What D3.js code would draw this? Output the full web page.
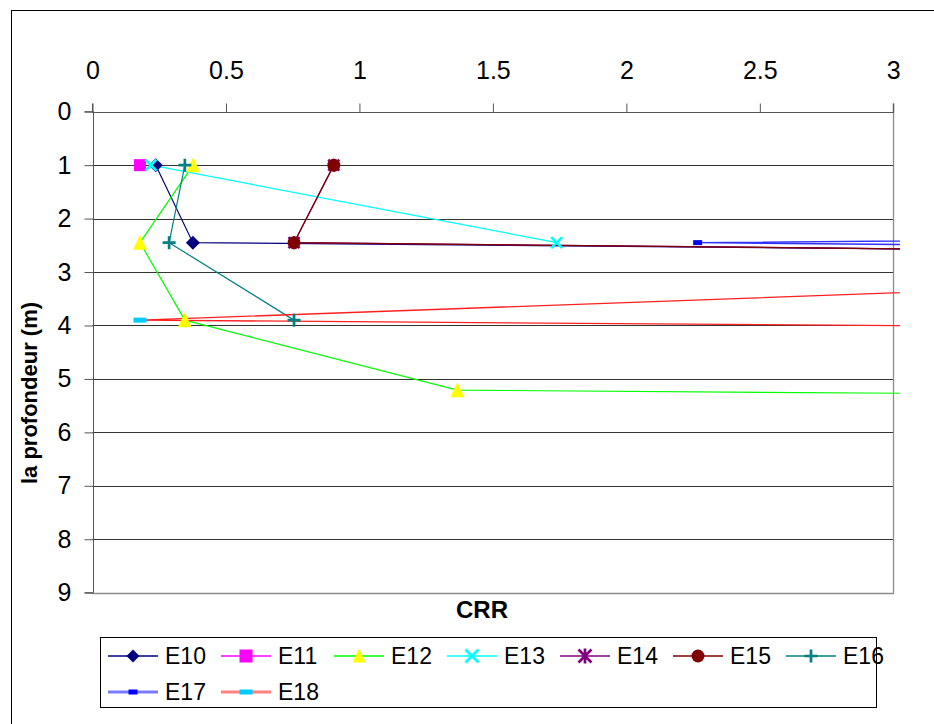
<!DOCTYPE html>
<html lang="en">
	<head>
		<meta charset="utf-8">
		<title>CRR / profondeur</title>
		<script src="https://d3js.org/d3.v7.min.js"></script>
		<style type="text/css">
			body { margin: 0; background: #fff; }
			text { font-family: "Liberation Sans", Arial, sans-serif; fill: #000; }
		</style>
	</head>
	<body>
		<script type="text/javascript">

			//Data (depth in m, CRR per point)
			var names = ["E10", "E11", "E12", "E13", "E14", "E15", "E16", "E17", "E18"];
			var crrE10 = [0.237, 0.376, 33.7];
			var depE10 = [1, 2.45, 3.9];
			var crrE11 = [0.178];
			var depE11 = [1];
			var crrE12 = [0.377, 0.178, 0.346, 1.367, 38];
			var depE12 = [1, 2.45, 3.9, 5.21, 6.5];
			var crrE13 = [0.219, 1.739];
			var depE13 = [1, 2.45];
			var crrE14 = [0.904, 0.755, 29.3];
			var depE14 = [1, 2.45, 3.9];
			var crrE15 = [0.904, 0.755, 29.3];
			var depE15 = [1, 2.45, 3.9];
			var crrE16 = [0.346, 0.287, 0.755];
			var depE16 = [1, 2.45, 3.9];
			var crrE17 = [37.6, 2.267, 35];
			var depE17 = [1, 2.45, 3.9];
			var crrE18 = [8.2, 0.178, 36];
			var depE18 = [2.45, 3.9, 5.2];

			var xTicks = [0, 0.5, 1, 1.5, 2, 2.5, 3];
			var yTicks = [0, 1, 2, 3, 4, 5, 6, 7, 8, 9];

			var allCrr = [crrE10, crrE11, crrE12, crrE13, crrE14, crrE15, crrE16, crrE17, crrE18];
			var allDep = [depE10, depE11, depE12, depE13, depE14, depE15, depE16, depE17, depE18];

			//Look of each series: line colour, marker, marker colour
			var styles = [
				{line: "#000080", mark: "diamond", fill: "#000080", size: 14},
				{line: "#ff00ff", mark: "square", fill: "#ff00ff", size: 12},
				{line: "#00ff00", mark: "triangle", fill: "#ffff00", size: 14},
				{line: "#00ffff", mark: "x", fill: "#00ffff", size: 11},
				{line: "#800080", mark: "star", fill: "#800080", size: 11},
				{line: "#800000", mark: "circle", fill: "#800000", size: 13},
				{line: "#008080", mark: "plus", fill: "#008080", size: 13},
				{line: "#3030ff", mark: "dash", fill: "#0000ff", size: 9, lw: 1.4, legLine: "#7a7aff"},
				{line: "#ff2020", mark: "dash", fill: "#00ccff", size: 13, lw: 1.3, legLine: "#ff8080"}
			];

			//Width and height
			var w = 934;
			var h = 724;

			var x = d3.scaleLinear().domain([0, 3]).range([92.5, 893.3]);
			var y = d3.scaleLinear().domain([0, 9]).range([111.7, 592.7]);

			//Create SVG element
			var svg = d3.select("body")
						.append("svg")
						.attr("width", w)
						.attr("height", h);

			//outer chart frame
			svg.append("rect")
				.attr("x", 11.5).attr("y", 10.5)
				.attr("width", 940).attr("height", 740)
				.attr("fill", "none").attr("stroke", "#000").attr("stroke-width", 1);

			//gridlines
			svg.selectAll("line.grid")
				.data(yTicks.slice(1, -1))
				.enter()
				.append("line")
				.attr("class", "grid")
				.attr("x1", x(0)).attr("x2", x(3))
				.attr("y1", function(d) { return Math.round(y(d)) + 0.5; })
				.attr("y2", function(d) { return Math.round(y(d)) + 0.5; })
				.attr("stroke", "#333").attr("stroke-width", 1);

			//plot area border right and bottom
			svg.append("path")
				.attr("d", "M" + (Math.round(x(3)) + 0.5) + "," + y(0) + "V" + (Math.round(y(9)) + 0.5) + "H" + x(0))
				.attr("fill", "none").attr("stroke", "#8c8c8c").attr("stroke-width", 1.3);

			//axes
			var xAxis = d3.axisTop(x).tickValues(xTicks).tickSize(9).tickPadding(25).tickFormat(d3.format("~g"));
			var yAxis = d3.axisLeft(y).tickValues(yTicks).tickSize(9).tickPadding(13);

			var gx = svg.append("g").attr("transform", "translate(0," + (Math.round(y(0)) + 0.5) + ")").call(xAxis);
			var gy = svg.append("g").attr("transform", "translate(" + (Math.round(x(0)) + 0.5) + ",0)").call(yAxis);

			[gx, gy].forEach(function(g) {
				g.select(".domain").attr("stroke", "#555");
				g.selectAll(".tick line").attr("stroke", "#555");
				g.selectAll(".tick text")
					.attr("font-family", "'Liberation Sans', Arial, sans-serif")
					.attr("font-size", 25)
					.attr("fill", "#000");
			});
			gx.select(".domain").attr("d", "M" + x(0) + ",-9V0H" + x(3) + "V-9");
			gy.select(".domain").attr("d", "M-9," + y(0) + "H0V" + y(9) + "H-9");

			//axis titles
			svg.append("text")
				.attr("x", 482).attr("y", 618)
				.attr("text-anchor", "middle")
				.attr("font-weight", "bold")
				.attr("font-size", 24)
				.text("CRR");

			svg.append("text")
				.attr("transform", "translate(37,393) rotate(-90)")
				.attr("text-anchor", "middle")
				.attr("font-weight", "bold")
				.attr("font-size", 22)
				.text("la profondeur (m)");

			//marker drawing
			function marker(g, type, cx, cy, s, col) {
				var r = s / 2;
				if (type == "diamond") {
					g.append("path").attr("d", "M" + cx + "," + (cy - r) + "L" + (cx + r) + "," + cy + "L" + cx + "," + (cy + r) + "L" + (cx - r) + "," + cy + "Z").attr("fill", col);
				} else if (type == "square") {
					g.append("rect").attr("x", cx - r).attr("y", cy - r).attr("width", s).attr("height", s).attr("fill", col);
				} else if (type == "triangle") {
					g.append("path").attr("d", "M" + cx + "," + (cy - r - 1) + "L" + (cx + r) + "," + (cy + r) + "L" + (cx - r) + "," + (cy + r) + "Z").attr("fill", col);
				} else if (type == "circle") {
					g.append("circle").attr("cx", cx).attr("cy", cy).attr("r", r).attr("fill", col);
				} else if (type == "dash") {
					g.append("rect").attr("x", cx - r).attr("y", cy - 2.5).attr("width", s).attr("height", 5).attr("fill", col);
				} else {
					var d = "";
					if (type == "x" || type == "star") d += "M" + (cx - r) + "," + (cy - r) + "L" + (cx + r) + "," + (cy + r) + "M" + (cx + r) + "," + (cy - r) + "L" + (cx - r) + "," + (cy + r);
					if (type == "star") d += "M" + cx + "," + (cy - r - 1) + "L" + cx + "," + (cy + r + 1);
					if (type == "plus") d += "M" + (cx - r) + "," + cy + "L" + (cx + r) + "," + cy + "M" + cx + "," + (cy - r) + "L" + cx + "," + (cy + r);
					g.append("path").attr("d", d).attr("fill", "none").attr("stroke", col).attr("stroke-width", 2.7);
				}
			}

			//clip lines (they run a few px past the plot edge)
			svg.append("clipPath").attr("id", "clip")
				.append("rect").attr("x", x(0)).attr("y", y(0)).attr("width", 900 - x(0)).attr("height", y(9) - y(0));

			var line = d3.line()
				.x(function(d) { return x(d[0]); })
				.y(function(d) { return y(d[1]); });

			var plot = svg.append("g").attr("clip-path", "url(#clip)");

			names.forEach(function(n, i) {
				var pts = d3.zip(allCrr[i], allDep[i]);
				var st = styles[i];
				plot.append("path")
					.datum(pts)
					.attr("d", line)
					.attr("fill", "none")
					.attr("stroke", st.line)
					.attr("stroke-width", st.lw || 1.2);
			});

			//markers on top, drawn in series order
			names.forEach(function(n, i) {
				var st = styles[i];
				var g = plot.append("g");
				d3.zip(allCrr[i], allDep[i]).forEach(function(p) {
					if (p[0] <= 3) marker(g, st.mark, x(p[0]), y(p[1]), st.size, st.fill);
				});
			});

			//Legend
			svg.append("rect")
				.attr("x", 100.5).attr("y", 637.5)
				.attr("width", 776).attr("height", 70)
				.attr("fill", "#fff").attr("stroke", "#000").attr("stroke-width", 1);

			var leg = svg.selectAll("g.leg")
				.data(names)
				.enter()
				.append("g")
				.attr("class", "leg")
				.attr("transform", function(d, i) {
					return "translate(" + (108 + 113 * (i % 7)) + "," + (656 + 36 * Math.floor(i / 7)) + ")";
				});

			leg.each(function(d, i) {
				var g = d3.select(this);
				var st = styles[i];
				g.append("line")
					.attr("x1", 0).attr("x2", 50).attr("y1", 0).attr("y2", 0)
					.attr("stroke", st.legLine || st.line)
					.attr("stroke-width", st.legLine ? 3 : 1.3);
				marker(g, st.mark, 25, 0, st.mark == "dash" ? st.size : 13, st.fill);
				g.append("text")
					.attr("x", 57).attr("y", 0).attr("dy", "0.36em")
					.attr("font-size", 23)
					.text(d);
			});

		</script>
	</body>
</html>
